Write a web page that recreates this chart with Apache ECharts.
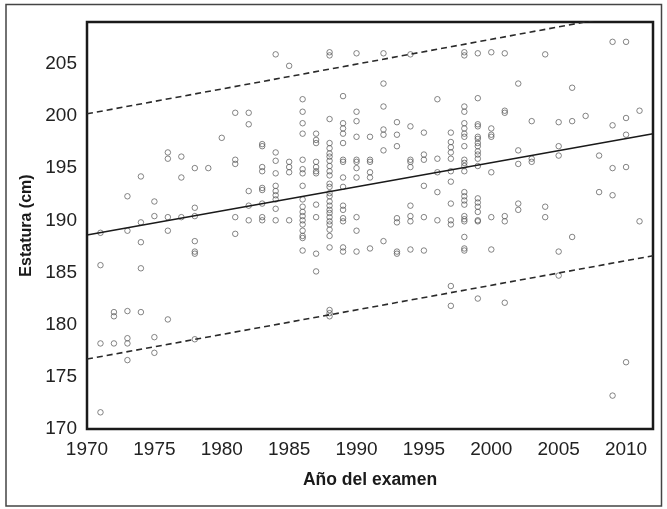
<!DOCTYPE html>
<html>
<head>
<meta charset="utf-8">
<script src="https://cdn.jsdelivr.net/npm/echarts@6/dist/echarts.min.js"></script>
<style>
  html, body { margin: 0; padding: 0; background: #fff; }
  #chart { width: 667px; height: 509px; }
</style>
</head>
<body>
<div id="chart"></div>
<script>
// años de examen (una columna de puntos por año)
var anios = [1971, 1972, 1973, 1974, 1975, 1976, 1977, 1978, 1979, 1980,
    1981, 1982, 1983, 1984, 1985, 1986, 1987, 1988, 1989, 1990,
    1991, 1992, 1993, 1994, 1995, 1996, 1997, 1998, 1999, 2000,
    2001, 2002, 2003, 2004, 2005, 2006, 2007, 2008, 2009, 2010, 2011];

// estaturas (cm), una lista por año
var estaturas = [
    [188.8, 185.7, 178.2, 171.6],
    [181.2, 180.8, 178.2],
    [192.3, 189.0, 181.3, 178.7, 178.2, 176.6],
    [194.2, 189.8, 187.9, 185.4, 181.2],
    [191.8, 190.4, 178.8, 177.3],
    [196.5, 195.9, 190.3, 189.0, 180.5],
    [196.1, 194.1, 190.3],
    [195.0, 191.2, 190.4, 188.0, 187.0, 186.8, 178.6],
    [195.0],
    [197.9],
    [200.3, 195.8, 195.4, 190.3, 188.7],
    [200.3, 199.2, 192.8, 191.4, 190.0],
    [197.3, 197.1, 195.1, 194.7, 193.1, 192.9, 191.6, 190.3, 190.0],
    [205.9, 196.5, 195.7, 194.5, 193.3, 192.8, 192.4, 192.0, 191.1, 190.0],
    [204.8, 195.6, 195.1, 194.6, 190.0],
    [201.6, 200.4, 199.3, 198.3, 195.8, 194.9, 194.5, 193.3, 192.0, 191.3, 190.8, 190.4, 190.0, 189.6, 189.0, 188.5, 188.3, 187.1],
    [198.3, 197.7, 197.4, 195.6, 195.1, 194.7, 194.5, 191.5, 190.3, 186.8, 185.1],
    [206.1, 205.8, 199.7, 197.4, 196.9, 196.4, 196.1, 195.7, 195.2, 194.7, 194.3, 193.5, 193.2, 192.6, 192.3, 191.8, 191.4, 191.0, 190.7, 190.3, 189.9, 189.6, 189.1, 188.5, 187.4, 181.4, 181.1, 180.8],
    [201.9, 199.3, 198.8, 198.3, 197.4, 195.8, 195.6, 194.1, 193.2, 191.4, 191.0, 190.2, 189.9, 187.4, 187.0],
    [206.0, 200.4, 199.5, 198.0, 195.8, 195.6, 195.0, 194.1, 190.3, 189.0, 187.0],
    [198.0, 195.8, 195.6, 194.6, 194.1, 187.3],
    [206.0, 203.1, 200.9, 198.7, 198.2, 196.7, 188.0],
    [199.4, 198.2, 197.1, 190.2, 189.8, 187.0, 186.8],
    [205.9, 199.0, 195.8, 195.6, 195.1, 191.4, 190.4, 189.9, 187.2],
    [198.4, 196.3, 195.8, 193.3, 190.3, 187.1],
    [201.6, 195.9, 194.6, 192.7, 190.0],
    [198.4, 197.5, 197.0, 196.5, 195.9, 194.7, 193.7, 191.6, 190.0, 189.6, 183.7, 181.8],
    [206.1, 205.8, 200.9, 200.4, 199.3, 198.8, 198.3, 198.0, 197.1, 195.8, 195.5, 195.2, 194.7, 192.7, 192.3, 191.9, 191.5, 190.4, 190.1, 189.9, 188.4, 187.3, 187.1],
    [206.0, 201.7, 199.2, 199.0, 198.0, 197.8, 197.4, 197.1, 196.6, 196.3, 195.9, 195.2, 192.1, 191.7, 191.3, 190.8, 190.0, 189.9, 182.5],
    [206.1, 198.8, 198.2, 198.0, 194.6, 190.3, 187.2],
    [206.0, 200.5, 200.3, 190.4, 189.9, 182.1],
    [203.1, 196.7, 195.4, 191.6, 191.0],
    [199.5, 195.9, 195.6],
    [205.9, 191.3, 190.3],
    [199.4, 197.1, 196.2, 187.0, 184.7],
    [202.7, 199.5, 188.4],
    [200.0],
    [196.2, 192.7],
    [207.1, 199.1, 195.0, 192.4, 173.2],
    [207.1, 199.8, 198.2, 195.1, 176.4],
    [200.5, 189.9]
];

// recta de regresión y límites del intervalo de predicción
var lineaAnios = [1970, 2012];
var ajuste = [188.6, 198.3];
var limiteSup = [200.2, 210.2];
var limiteInf = [176.7, 186.6];

var puntos = [];
for (var i = 0; i < anios.length; i++) {
    for (var j = 0; j < estaturas[i].length; j++) {
        puntos.push([anios[i], estaturas[i][j]]);
    }
}

function pares(ys) {
    return lineaAnios.map(function (x, k) { return [x, ys[k]]; });
}

var fuente = 'Liberation Sans';

var chart = echarts.init(document.getElementById('chart'), null, { renderer: 'canvas' });

var option = {
    animation: false,
    backgroundColor: '#fff',
    graphic: [{
        type: 'rect',
        shape: { x: 6, y: 4.5, width: 655.5, height: 501.5 },
        style: { fill: 'none', stroke: '#444', lineWidth: 1.5 },
        silent: true
    }],
    grid: {
        left: 87,
        right: 14,
        top: 22,
        bottom: 80,
        show: true,
        borderColor: '#1a1a1a',
        borderWidth: 2.5,
        backgroundColor: 'transparent'
    },
    xAxis: {
        type: 'value',
        min: 1970,
        max: 2012,
        interval: 5,
        name: 'Año del examen',
        nameLocation: 'middle',
        nameGap: 42,
        nameTextStyle: { fontFamily: fuente, fontSize: 17.5, fontWeight: 'bold', color: '#1a1a1a' },
        axisLine: { show: false },
        axisTick: { show: false },
        splitLine: { show: false },
        axisLabel: {
            margin: 11,
            fontFamily: fuente,
            fontSize: 19,
            color: '#222',
            formatter: function (v) { return v % 5 === 0 ? String(v) : ''; }
        }
    },
    yAxis: {
        type: 'value',
        min: 170,
        max: 209,
        interval: 5,
        name: 'Estatura (cm)',
        nameLocation: 'middle',
        nameRotate: 90,
        nameGap: 52,
        nameTextStyle: { fontFamily: fuente, fontSize: 16, fontWeight: 'bold', color: '#1a1a1a' },
        axisLine: { show: false },
        axisTick: { show: false },
        splitLine: { show: false },
        axisLabel: {
            margin: 10,
            fontFamily: fuente,
            fontSize: 19,
            color: '#222',
            formatter: function (v) { return v % 5 === 0 ? String(v) : ''; }
        }
    },
    series: [{
        name: 'estatura',
        type: 'scatter',
        data: puntos,
        symbol: 'circle',
        symbolSize: 5.5,
        itemStyle: { color: 'rgba(255,255,255,0)', borderColor: '#555', borderWidth: 0.9 },
        emphasis: { disabled: true }
    }, {
        name: 'ajuste',
        type: 'line',
        data: pares(ajuste),
        showSymbol: false,
        symbol: 'none',
        clip: true,
        lineStyle: { color: '#1a1a1a', width: 1.5 }
    }, {
        name: 'superior',
        type: 'line',
        data: pares(limiteSup),
        showSymbol: false,
        symbol: 'none',
        clip: true,
        lineStyle: { color: '#2a2a2a', width: 1.6, type: [6, 4] }
    }, {
        name: 'inferior',
        type: 'line',
        data: pares(limiteInf),
        showSymbol: false,
        symbol: 'none',
        clip: true,
        lineStyle: { color: '#2a2a2a', width: 1.6, type: [6, 4] }
    }]
};

chart.setOption(option);
</script>
</body>
</html>
